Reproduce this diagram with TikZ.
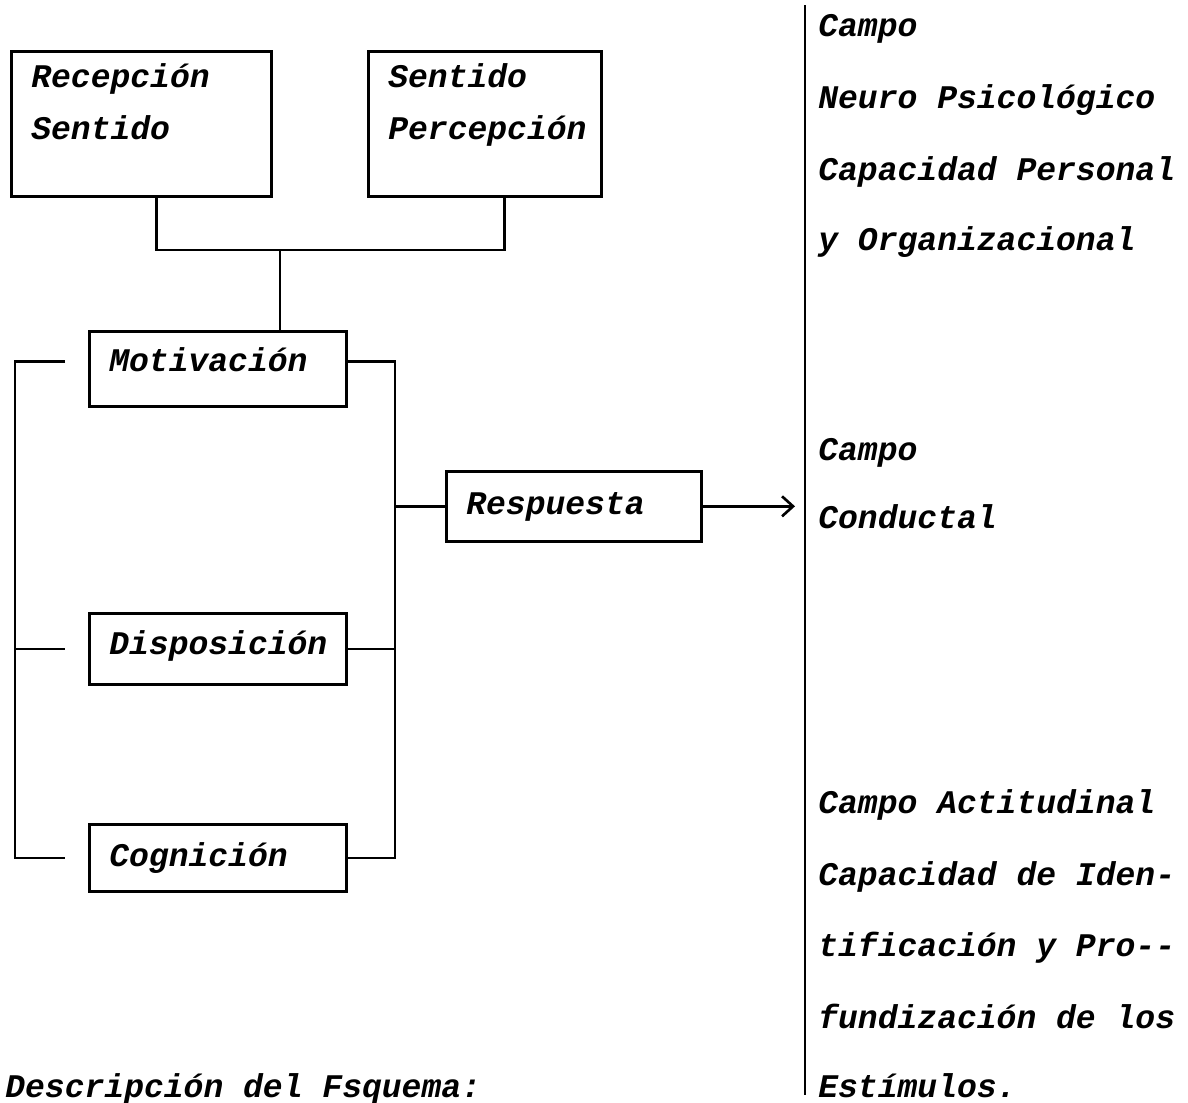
\documentclass[tikz,border=0pt]{standalone}
\usepackage{fontspec}
\setmonofont{Liberation Mono}
\usetikzlibrary{arrows.meta}
\newcommand{\maq}{\ttfamily\bfseries\itshape\fontsize{18.8}{29.6}\selectfont}

\begin{document}
\begin{tikzpicture}[
                x=0.02cm, y=-0.02cm,
                caja/.style n args={3}{draw, line width=1.5pt, anchor=north west,
                    align=left, inner xsep=0.4cm, inner ysep=0pt, font=\maq,
                    text width=#1, text height=#2, text depth=#3},
                linea/.style={line width=1.5pt},
                campo/.style={anchor=base west, inner sep=0pt, font=\maq},
            ]
            \useasboundingbox (0,0) rectangle (1188,1103);
            % cajas
            \node[caja={4.4cm}{0.72cm}{2.18cm}] (rec) at (10,50) {Recepción\\Sentido};
            \node[caja={3.86cm}{0.72cm}{2.18cm}] (sen) at (367,50) {Sentido\\Percepción};
            \node[caja={4.34cm}{0.8cm}{0.7cm}] (mot) at (88,330) {Motivación};
            \node[caja={4.34cm}{0.82cm}{0.6cm}] (dis) at (88,612) {Disposición};
            \node[caja={4.34cm}{0.84cm}{0.5cm}] (cog) at (88,823) {Cognición};
            \node[caja={4.3cm}{0.86cm}{0.54cm}] (res) at (445,470) {Respuesta};
            \coordinate (j1) at (280,250);
            \coordinate (izq) at (15,0);
            \coordinate (bus) at (395,0);
            \coordinate (div1) at (805,5);
            \coordinate (div2) at (805,1095);
            \coordinate (motw) at ([yshift=0.15cm]mot.west);
            \coordinate (mote) at ([yshift=0.15cm]mot.east);
            % conexiones
            \draw[linea] ([xshift=0.3cm]rec.south) |- (j1) -| ([xshift=0.4cm]sen.south);
            \draw[linea] (j1) -- (j1 |- mot.north);
            \draw[linea] ([xshift=-0.46cm]motw) -- (izq |- motw)
                -- (izq |- cog.west) -- ([xshift=-0.46cm]cog.west);
            \draw[linea] (izq |- dis.west) -- ([xshift=-0.46cm]dis.west);
            \draw[linea] (mote) -- (bus |- mote) -- (bus |- cog.east) -- (cog.east);
            \draw[linea] (dis.east) -- (bus |- dis.east);
            \draw[linea] (bus |- res.west) -- (res.west);
            \draw[linea, -{Straight Barb[length=0.22cm, width=0.4cm]}] (res.east)
                -- ([xshift=-0.2cm]div1 |- res.east);
            \draw[linea] (div1) -- (div2);
            % campos
            \foreach \y/\t [count=\i] in {36/Campo, 108/Neuro Psicológico,
                    180/Capacidad Personal, 250/y Organizacional,
                    460/Campo, 528/Conductal,
                    813/Campo Actitudinal, 885/Capacidad de Iden-,
                    956/tificación y Pro-{}-, 1028/fundización de los,
                    1097/Estímulos.}
                \node[campo] (t\i) at (818,\y) {\t};
            \node[campo] (desc) at (5,1097) {Descripción del Fsquema:};
            \end{tikzpicture}
\end{document}
